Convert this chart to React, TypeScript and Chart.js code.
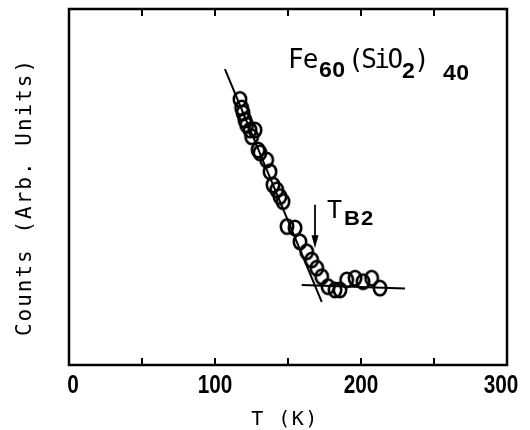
import React, { useEffect, useRef } from "react";
import { Chart, registerables } from "chart.js";

Chart.register(...registerables);

// Data (T in K, counts in arbitrary units 0..100)
const temperatures = [
  117.1, 118.3, 119.2, 120.5, 121.7, 124.0, 127.4, 125.1, 129.5, 130.8,
  135.4, 137.7, 139.7, 142.3, 144.5, 146.6, 149.3, 154.8, 158.2, 162.8,
  166.2, 169.7, 173.1, 177.4, 182.2, 185.6, 190.2, 195.9, 201.4, 207.3, 213.0,
];
const counts = [
  74.6, 72.2, 70.8, 68.8, 67.4, 66.0, 66.0, 64.1, 60.4, 59.6,
  57.6, 54.3, 50.6, 49.2, 47.3, 45.9, 38.9, 38.5, 34.6, 31.8,
  29.5, 27.2, 24.8, 22.0, 21.1, 21.1, 23.9, 24.4, 23.4, 24.4, 21.6,
];
const steepLineT = [106.8, 173.1];
const steepLineY = [83.1, 17.7];
const flatLineT = [159.4, 230.1];
const flatLineY = [22.5, 21.5];
const xTicks = [0, 50, 100, 150, 200, 250, 300];
const xTickLabels = ["0", "", "100", "", "200", "", "300"];
const arrowT = 168.5;
const arrowY = [45, 32.8];

const MONO = "'DejaVu Sans Mono', 'Liberation Mono', monospace";
const BOLD = "'Liberation Sans', Arimo, sans-serif";

function drawText(
  ctx: CanvasRenderingContext2D,
  str: string,
  x: number,
  y: number,
  font: string,
  spacing = 0,
  align: CanvasTextAlign = "left",
  scaleX = 1
) {
  ctx.save();
  ctx.font = font;
  (ctx as any).letterSpacing = spacing + "px";
  ctx.textAlign = align;
  ctx.textBaseline = "alphabetic";
  ctx.translate(x, y);
  ctx.scale(scaleX, 1);
  ctx.fillText(str, 0, 0);
  ctx.restore();
}

function makeMarker(): HTMLCanvasElement {
  const c = document.createElement("canvas");
  c.width = 18;
  c.height = 20;
  const g = c.getContext("2d")!;
  g.strokeStyle = "#000";
  g.lineWidth = 2.6;
  g.beginPath();
  g.ellipse(9, 10, 6.2, 7.2, 0, 0, Math.PI * 2);
  g.stroke();
  return c;
}

const framePlugin = {
  id: "framePlugin",
  afterDraw(chart: any) {
    const { ctx, chartArea: a, scales } = chart;
    const x = scales.x;
    const y = scales.y;
    ctx.save();
    ctx.strokeStyle = "#000";
    ctx.fillStyle = "#000";
    ctx.lineWidth = 2.5;
    ctx.strokeRect(a.left, a.top, a.right - a.left, a.bottom - a.top);

    const line = (x1: number, y1: number, x2: number, y2: number) => {
      ctx.beginPath();
      ctx.moveTo(x1, y1);
      ctx.lineTo(x2, y2);
      ctx.stroke();
    };

    ctx.lineWidth = 2;
    xTicks.forEach((v, i) => {
      const px = x.getPixelForValue(v);
      if (i > 0 && i < xTicks.length - 1) {
        line(px, a.bottom, px, a.bottom - 7);
        line(px, a.top, px, a.top + 7);
      }
      const lbl = xTickLabels[i];
      if (lbl) {
        const shift = i === 0 ? 4 : i === xTicks.length - 1 ? -6 : 0;
        drawText(ctx, lbl, px + shift, a.bottom + 28, "bold 26px " + BOLD, 0, "center", 0.8);
      }
    });

    // T_B2 arrow
    const ax = x.getPixelForValue(arrowT);
    const ay1 = y.getPixelForValue(arrowY[0]);
    const ay2 = y.getPixelForValue(arrowY[1]);
    ctx.lineWidth = 1.8;
    line(ax, ay1, ax, ay2 - 8);
    ctx.beginPath();
    ctx.moveTo(ax, ay2);
    ctx.lineTo(ax - 3.5, ay2 - 13);
    ctx.lineTo(ax + 3.5, ay2 - 13);
    ctx.closePath();
    ctx.fill();

    drawText(ctx, "T", ax + 12, ay1 + 13, "25px " + MONO);
    drawText(ctx, "B2", ax + 29, ay1 + 20, "bold 21px " + BOLD, 1, "left", 1.05);

    // Sample label
    const tx = a.left + 219;
    drawText(ctx, "Fe", tx, 68, "26px " + MONO, -1);
    drawText(ctx, "60", tx + 31, 77, "bold 22px " + BOLD, 0.5, "left", 1.05);
    drawText(ctx, "(SiO", tx + 60, 68, "26px " + MONO, -2.5);
    drawText(ctx, "2", tx + 114, 78, "bold 22px " + BOLD, 0, "left", 1.05);
    drawText(ctx, ")", tx + 126, 68, "26px " + MONO);
    drawText(ctx, "40", tx + 155, 80, "bold 22px " + BOLD, 0.5, "left", 1.05);

    // Axis titles
    drawText(ctx, "T (K)", 285, 425, "20px " + MONO, 1.5, "center");
    ctx.save();
    ctx.translate(31, 197);
    ctx.rotate(-Math.PI / 2);
    drawText(ctx, "Counts (Arb. Units)", 0, 0, "21px " + MONO, 2, "center");
    ctx.restore();

    ctx.restore();
  },
};

export default function App() {
  const ref = useRef<HTMLCanvasElement | null>(null);

  useEffect(() => {
    if (!ref.current) return;
    const marker = makeMarker();
    const chart = new Chart(ref.current, {
      type: "scatter",
      data: {
        datasets: [
          {
            label: "steep",
            data: steepLineT.map((t, i) => ({ x: t, y: steepLineY[i] })),
            showLine: true,
            borderColor: "#000",
            borderWidth: 2,
            pointRadius: 0,
          },
          {
            label: "flat",
            data: flatLineT.map((t, i) => ({ x: t, y: flatLineY[i] })),
            showLine: true,
            borderColor: "#000",
            borderWidth: 2,
            pointRadius: 0,
          },
          {
            label: "counts",
            data: temperatures.map((t, i) => ({ x: t, y: counts[i] })),
            showLine: false,
            pointStyle: marker as any,
            pointRadius: 7,
            pointBorderColor: "#000",
            pointBackgroundColor: "rgba(0,0,0,0)",
          },
        ],
      },
      options: {
        animation: false,
        responsive: false,
        layout: { padding: { left: 0, right: 23, top: 9, bottom: 0 } },
        plugins: {
          legend: { display: false },
          tooltip: { enabled: false },
        },
        scales: {
          x: {
            type: "linear",
            min: 0,
            max: 300,
            afterFit: (s: any) => {
              s.height = 65;
            },
            grid: { display: false, drawTicks: false },
            border: { display: false },
            ticks: { display: false, stepSize: 50 },
          },
          y: {
            type: "linear",
            min: 0,
            max: 100,
            afterFit: (s: any) => {
              s.width = 69;
            },
            grid: { display: false },
            border: { display: false },
            ticks: { display: false },
          },
        },
      },
      plugins: [framePlugin],
    });
    return () => chart.destroy();
  }, []);

  return (
    <div style={{ position: "absolute", left: 0, top: 0, width: 530, height: 430, background: "#fff" }}>
      <canvas ref={ref} width={530} height={430} style={{ display: "block" }} />
    </div>
  );
}
